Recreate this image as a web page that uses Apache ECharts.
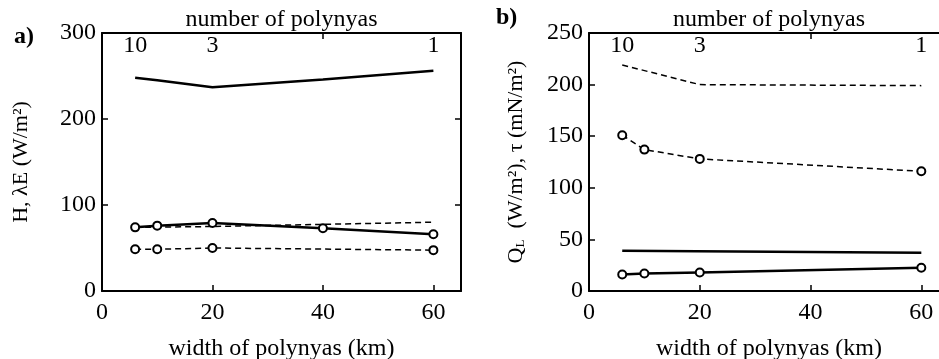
<!DOCTYPE html>
<html>
<head>
<meta charset="utf-8">
<script src="https://cdn.jsdelivr.net/npm/echarts@6/dist/echarts.min.js"></script>
<style>
  html, body { margin: 0; padding: 0; background: #fff; }
  #chart { width: 939px; height: 359px; }
</style>
</head>
<body>
<div id="chart"></div>
<script>
// x values are polynya widths (km)
const widthTicks = [0, 20, 40, 60]
const polynyaPos = [6, 20, 60]
const polynyaNum = ['10', '3', '1']

// panel a) H, lambdaE (W/m2)
const aSolidTop = [[6, 248], [10, 245], [20, 237], [40, 246], [60, 256]]
const aSolidCirc = [[6, 74], [10, 76], [20, 79], [40, 73], [60, 66]]
const aDashTop = [[6, 74], [20, 75], [60, 80]]
const aDashCirc = [[6, 48.5], [10, 48.5], [20, 50], [60, 47.5]]

// panel b) QL (W/m2), tau (mN/m2)
const bDashTop = [[6, 219], [20, 200], [60, 199]]
const bDashCirc = [[6, 151], [10, 137], [20, 128], [60, 116]]
const bSolidTop = [[6, 39], [60, 37]]
const bSolidCirc = [[6, 16], [10, 17], [20, 18], [60, 22.5]]

const font = 'Liberation Serif, Times New Roman, serif'
var myChart = echarts.init(document.getElementById('chart'))

function bottomAxis (grid) {
  return {
    gridIndex: grid, type: 'value', position: 'bottom', min: 0, max: 65, interval: 20,
    name: 'width of polynyas (km)', nameLocation: 'middle', nameGap: 46,
    nameTextStyle: { fontFamily: font, fontSize: 24, color: '#000' },
    axisLine: { onZero: false, lineStyle: { color: '#000', width: 2 } },
    axisTick: { inside: true, length: 6, customValues: widthTicks, lineStyle: { color: '#000', width: 1.5 } },
    axisLabel: { fontFamily: font, fontSize: 24, color: '#000', margin: 10, customValues: widthTicks },
    splitLine: { show: false }
  }
}
function topAxis (grid) {
  return {
    gridIndex: grid, type: 'value', position: 'top', min: 0, max: 65,
    name: 'number of polynyas', nameLocation: 'middle', nameGap: 1, nameMoveOverlap: false,
    nameTextStyle: { fontFamily: font, fontSize: 24, color: '#000' },
    axisLine: { onZero: false, lineStyle: { color: '#000', width: 2 } },
    axisTick: { inside: true, length: 6, customValues: [40], lineStyle: { color: '#000', width: 1.5 } },
    axisLabel: {
      inside: true, margin: 1, fontFamily: font, fontSize: 24, color: '#000',
      customValues: polynyaPos,
      formatter: function (v) { return polynyaNum[polynyaPos.indexOf(v)] }
    },
    splitLine: { show: false }
  }
}
function leftAxis (grid, max, step, name) {
  return {
    gridIndex: grid, type: 'value', position: 'left', min: 0, max: max, interval: step,
    name: name, nameLocation: 'middle', nameGap: grid === 0 ? 70 : 62,
    nameTextStyle: {
      fontFamily: font, fontSize: 22, color: '#000',
      rich: {
        n: { fontFamily: font, fontSize: 22, color: '#000' },
        s: { fontFamily: font, fontSize: 13, color: '#000', verticalAlign: 'bottom', padding: [8, 0, 0, 0] }
      }
    },
    axisLine: { onZero: false, lineStyle: { color: '#000', width: 2 } },
    axisTick: { inside: true, length: 6, lineStyle: { color: '#000', width: 1.5 } },
    axisLabel: { fontFamily: font, fontSize: 24, color: '#000', margin: 6 },
    splitLine: { show: false }
  }
}
function rightAxis (grid, max, step) {
  return {
    gridIndex: grid, type: 'value', position: 'right', min: 0, max: max, interval: step,
    axisLine: { onZero: false, lineStyle: { color: '#000', width: 2 } },
    axisTick: { inside: true, length: 6, lineStyle: { color: '#000', width: 1.5 } },
    axisLabel: { show: false },
    splitLine: { show: false }
  }
}
function line (xi, yi, data, dashed, circles) {
  return {
    type: 'line', xAxisIndex: xi, yAxisIndex: yi, data: data,
    symbol: circles ? 'emptyCircle' : 'none', symbolSize: 8,
    itemStyle: { color: '#000', borderColor: '#000', borderWidth: 1.5 },
    lineStyle: { color: '#000', width: dashed ? 1.5 : 2.5, type: dashed ? [6, 4] : 'solid' },
    animation: false, silent: true
  }
}

myChart.setOption({
  animation: false,
  grid: [
    { left: 102, top: 33, width: 359, height: 258, containLabel: false, outerBoundsMode: 'none' },
    { left: 589, top: 33, width: 360, height: 258, containLabel: false, outerBoundsMode: 'none' }
  ],
  xAxis: [bottomAxis(0), topAxis(0), bottomAxis(1), topAxis(1)],
  yAxis: [
    leftAxis(0, 300, 100, 'H, λE (W/m²)'),
    rightAxis(0, 300, 100),
    leftAxis(1, 250, 50, '{n|Q}{s|L}{n|  (W/m²), τ (mN/m²)}'),
    rightAxis(1, 250, 50)
  ],
  graphic: [
    { type: 'text', left: 14, top: 25, style: { text: 'a)', font: 'bold 24px ' + font, fill: '#000' } },
    { type: 'text', left: 496, top: 6, style: { text: 'b)', font: 'bold 24px ' + font, fill: '#000' } }
  ],
  series: [
    line(0, 0, aSolidTop, false, false),
    line(0, 0, aSolidCirc, false, true),
    line(0, 0, aDashTop, true, false),
    line(0, 0, aDashCirc, true, true),
    line(2, 2, bDashTop, true, false),
    line(2, 2, bDashCirc, true, true),
    line(2, 2, bSolidTop, false, false),
    line(2, 2, bSolidCirc, false, true)
  ]
})
</script>
</body>
</html>
